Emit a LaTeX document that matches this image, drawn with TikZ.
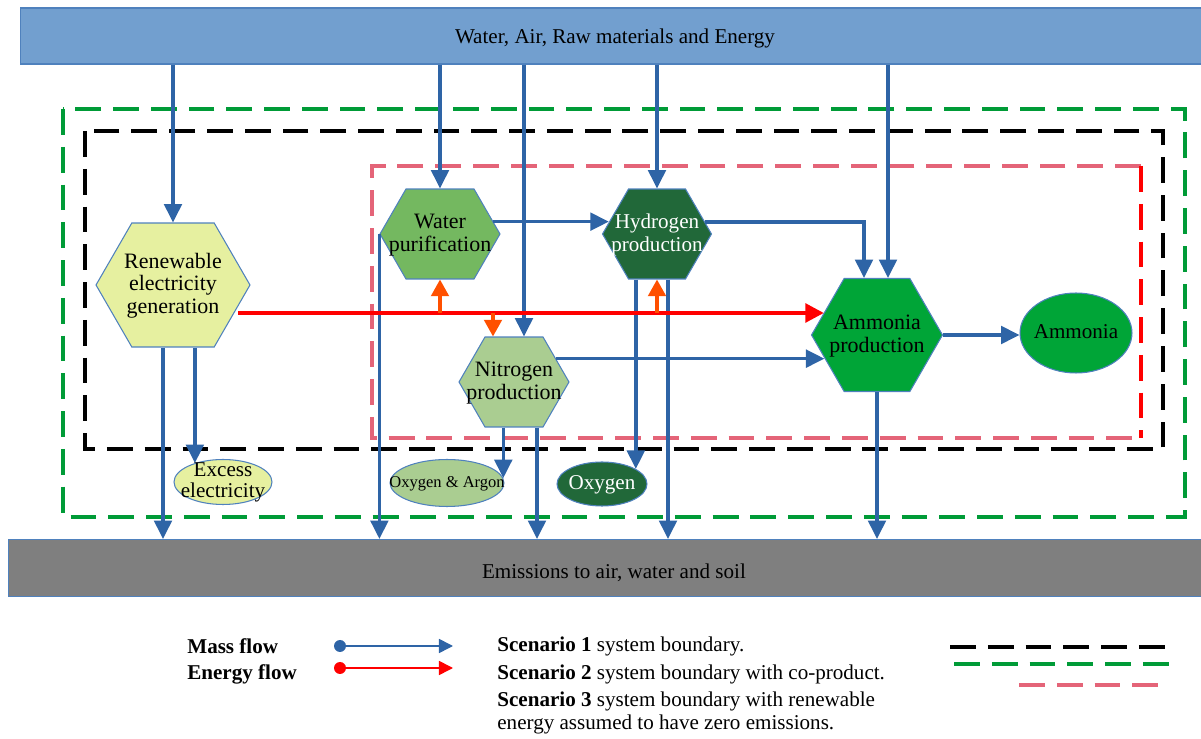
\documentclass[tikz,border=0pt]{standalone}
\usepackage{fontspec}
\setmainfont{Liberation Serif}
\usepackage{tikz}
\usepackage{xcolor}
\usetikzlibrary{shapes.geometric, shapes.symbols, arrows.meta, positioning, calc}
\definecolor{cFlow}{RGB}{46,100,166}
\definecolor{cTop}{RGB}{114,159,207}
\definecolor{cEdge}{RGB}{79,129,189}
\definecolor{cGrey}{RGB}{127,127,127}
\definecolor{cGreenB}{RGB}{0,155,55}
\definecolor{cPink}{RGB}{228,100,120}
\definecolor{cOrangeR}{RGB}{255,80,0}
\definecolor{cYellow}{RGB}{230,240,160}
\definecolor{cWater}{RGB}{116,184,96}
\definecolor{cHydro}{RGB}{33,104,57}
\definecolor{cNitro}{RGB}{170,205,145}
\definecolor{cAmmo}{RGB}{0,165,55}
\newcommand{\lbl}[1]{\makebox[0pt]{\smash{\raisebox{-0.3em}{\begin{tabular}{@{}c@{}}#1\end{tabular}}}}}
\tikzset{
	hexa/.style    ={signal, signal to=east and west, signal pointer angle=120, draw=cEdge, line width=0.6pt, inner sep=0pt, font=\fontsize{12.5}{13}\selectfont},
	prod/.style    ={ellipse, draw=cEdge, line width=0.6pt, inner sep=0pt, font=\fontsize{12}{11}\selectfont},
	band/.style    ={rectangle, draw=cEdge, line width=0.6pt, font=\fontsize{12}{13}\selectfont},
	mass/.style    ={draw=cFlow, line width=2pt, -{Triangle[length=10.5pt,width=10pt]}},
	energy/.style  ={draw=red, line width=2.3pt, -{Triangle[length=10.5pt,width=10.5pt]}},
	ebranch/.style ={draw=cOrangeR, line width=1.9pt, -{Triangle[length=9.5pt,width=10pt]}},
	bound/.style   ={line width=2.1pt, dash pattern=on 14.7pt off 6.8pt},
	% legend
	legtxt/.style  ={anchor=west, inner sep=0pt, align=left, font=\fontsize{12}{13.6}\selectfont},
	legdot/.style  ={circle, inner sep=0pt, minimum size=0.24cm},
	legline/.style ={line width=0.9pt, -{Triangle[length=8pt,width=8pt]}},
}
\begin{document}
\begin{tikzpicture}[x=0.02cm, y=-0.02cm]
	\useasboundingbox (0,0) rectangle (1201,739);
	% system boundaries
	\draw[bound, cGreenB] (63,109) rectangle (1185,517);
	\draw[bound, black] (85,131) rectangle (1163,449);
	\draw[bound, cPink] (1141,166) -- (372,166) -- (372,438) -- (1141,438);
	\draw[bound, red] (1141,166) -- (1141,438);
	% inputs and outputs
	\node[band, fill=cTop, minimum width=23.8cm, minimum height=1.12cm] (src) at (615,36) {\raisebox{-4.5pt}[0pt][0pt]{Water, Air, Raw materials and Energy}};
	\node[band, fill=cGrey, minimum width=24.24cm, minimum height=1.14cm] (em) at (614,568) {\raisebox{-6pt}[0pt][0pt]{Emissions to air, water and soil}};
	% processes
	\node[hexa, fill=cYellow, minimum width=3.08cm, minimum height=2.48cm] (ren) at (173,285) {\lbl{Renewable\\electricity\\generation}};
	\node[hexa, fill=cWater, minimum width=2.4cm, minimum height=1.8cm] (wp) at (440,234) {\lbl{Water\\purification}};
	\node[hexa, fill=cHydro, text=white, minimum width=2.18cm, minimum height=1.8cm, font=\fontsize{12}{13}\selectfont] (h2) at (657,234) {\lbl{Hydrogen\\production}};
	\node[hexa, fill=cNitro, minimum width=2.2cm, minimum height=1.8cm] (n2) at (514,382) {\lbl{Nitrogen\\production}};
	\node[hexa, fill=cAmmo, minimum width=2.62cm, minimum height=2.26cm] (amp) at (877,335) {\lbl{Ammonia\\production}};
	% products
	\node[prod, fill=cAmmo, minimum width=2.24cm, minimum height=1.6cm] (amm) at (1076,333) {\lbl{Ammonia}};
	\node[prod, fill=cYellow, minimum width=1.96cm, minimum height=0.9cm] (exc) at (223,482) {\lbl{Excess\\electricity}};
	\node[prod, fill=cNitro, minimum width=2.28cm, minimum height=0.94cm, font=\fontsize{9.4}{10}\selectfont] (oxar) at (447,483) {\lbl{Oxygen \& Argon}};
	\node[prod, fill=cHydro, text=white, minimum width=1.8cm, minimum height=0.88cm] (oxy) at (602,484) {\lbl{Oxygen}};
	% helper points
	\coordinate (ebus) at (238,313);
	\coordinate (n2e) at ($(n2.north)+(-21,0)$);
	\coordinate (n2m) at ($(n2.north)+(10,0)$);
	\coordinate (ampa) at ($(amp.north)+(-13,0)$);
	\coordinate (ampb) at ($(amp.north)+(11,0)$);
	\coordinate (renA) at ($(ren.south)+(-10,0)$);
	\coordinate (n2B) at ($(n2.south)+(23,0)$);
	\coordinate (h2B) at ($(h2.south)+(11,0)$);
	% mass flows
	\draw[mass] (src.south -| ren.north) -- (ren.north);
	\draw[mass] (src.south -| wp.north) -- (wp.north);
	\draw[mass] (src.south -| n2m) -- (n2m);
	\draw[mass] (src.south -| h2.north) -- (h2.north);
	\draw[mass] (src.south -| ampb) -- (ampb);
	\draw[mass] (wp.13) -- (wp.13 -| h2.166);
	\draw[mass] (h2.14) -| (ampa);
	\draw[mass] (n2.29) -- (n2.29 -| amp.204);
	\draw[mass] (amp.east) -- (amp.east -| amm.west);
	\draw[mass] (renA) -- (renA |- em.north);
	\draw[mass] (ren.south -| exc.146) -- (exc.146);
	\draw[mass] (wp.west) -- (wp.west |- em.north);
	\draw[mass] (n2.south -| oxar.5) -- (oxar.5);
	\draw[mass] (n2B) -- (n2B |- em.north);
	\draw[mass] (h2.south -| oxy.24) -- (oxy.24);
	\draw[mass] (h2B) -- (h2B |- em.north);
	\draw[mass] (amp.south) -- (amp.south |- em.north);
	% energy flows
	\draw[energy] (ebus) -- (ebus -| amp.157);
	\draw[ebranch] (wp.south |- ebus) -- (wp.south);
	\draw[ebranch] (h2.south |- ebus) -- (h2.south);
	\draw[ebranch] (n2e |- ebus) -- (n2e);
	% legend
	\node[legtxt] (lm) at (187,646) {\textbf{Mass flow}};
	\node[legtxt] (le) at (187,674) {\textbf{Energy flow}};
	\node[legdot, fill=cFlow] (mdot) at (340,646) {};
	\coordinate (mend) at (453,646);
	\draw[legline, cFlow] (mdot) -- (mend);
	\node[legdot, fill=red] (edot) at (340,668) {};
	\coordinate (eend) at (453,668);
	\draw[legline, red] (edot) -- (eend);
	\node[legtxt] (s1) at (497,646) {\textbf{Scenario 1} system boundary.};
	\node[legtxt] (s2) at (497,674) {\textbf{Scenario 2} system boundary with co-product.};
	\node[legtxt] (s3) at (497,713) {\textbf{Scenario 3} system boundary with renewable\\energy assumed to have zero emissions.};
	\draw[bound, black] (950,647) -- (1172,647);
	\draw[bound, cGreenB] (954,664) -- (1174,664);
	\draw[bound, cPink] (1019,685) -- (1165,685);
\end{tikzpicture}
\end{document}
